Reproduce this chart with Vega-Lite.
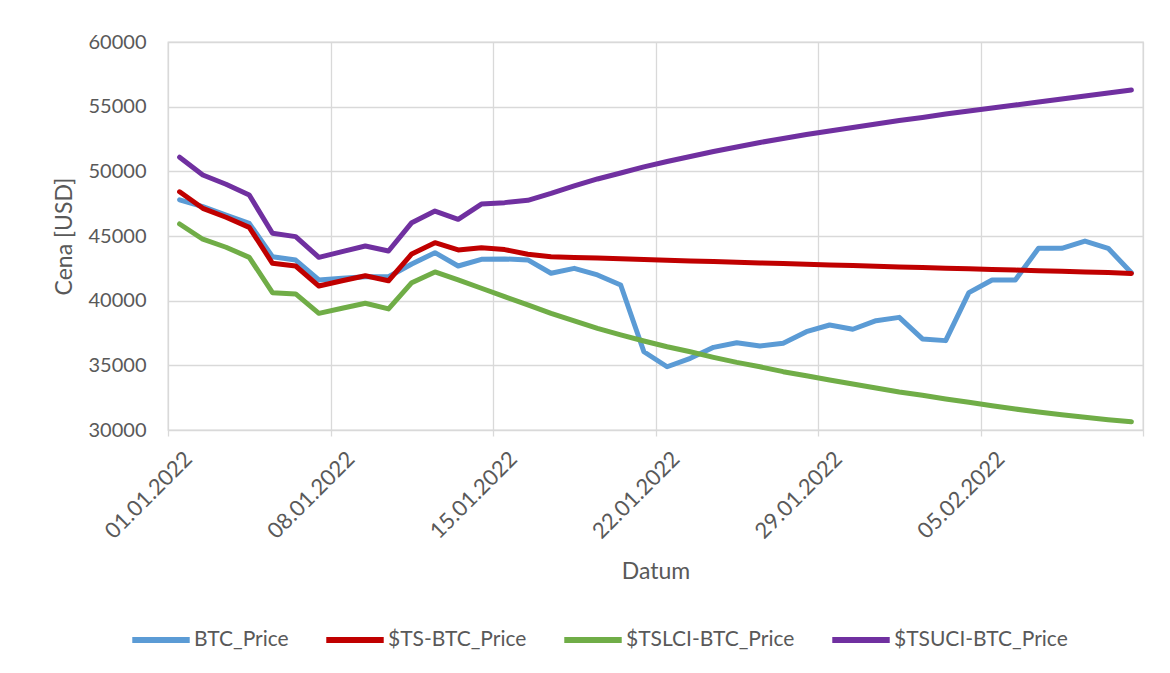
{
  "$schema": "https://vega.github.io/schema/vega-lite/v6.json",
  "width": 975,
  "height": 388,
  "autosize": {"type": "none"},
  "padding": {"left": 168, "top": 42, "right": 27, "bottom": 243},
  "background": "white",
  "config": {
    "font": "Lato",
    "view": {"stroke": "#d9d9d9", "strokeWidth": 1.3},
    "axis": {"labelFont": "Lato", "titleFont": "Lato", "labelColor": "#595959", "titleColor": "#595959", "gridColor": "#d9d9d9", "gridWidth": 1.3, "domain": false}
  },
  "data": {
    "values": [
      {"Datum": "2022-01-01", "BTC_Price": 47800, "TS": 48420, "LCI": 45930, "UCI": 51090},
      {"Datum": "2022-01-02", "BTC_Price": 47270, "TS": 47140, "LCI": 44750, "UCI": 49720},
      {"Datum": "2022-01-03", "BTC_Price": 46620, "TS": 46450, "LCI": 44130, "UCI": 49000},
      {"Datum": "2022-01-04", "BTC_Price": 45980, "TS": 45670, "LCI": 43350, "UCI": 48170},
      {"Datum": "2022-01-05", "BTC_Price": 43400, "TS": 42890, "LCI": 40620, "UCI": 45210},
      {"Datum": "2022-01-06", "BTC_Price": 43140, "TS": 42680, "LCI": 40520, "UCI": 44950},
      {"Datum": "2022-01-07", "BTC_Price": 41600, "TS": 41130, "LCI": 39020, "UCI": 43350},
      {"Datum": "2022-01-08", "BTC_Price": 41730, "TS": 41540, "LCI": 39410, "UCI": 43790},
      {"Datum": "2022-01-09", "BTC_Price": 41850, "TS": 41930, "LCI": 39800, "UCI": 44230},
      {"Datum": "2022-01-10", "BTC_Price": 41850, "TS": 41540, "LCI": 39360, "UCI": 43840},
      {"Datum": "2022-01-11", "BTC_Price": 42840, "TS": 43610, "LCI": 41390, "UCI": 46030},
      {"Datum": "2022-01-12", "BTC_Price": 43710, "TS": 44480, "LCI": 42220, "UCI": 46930},
      {"Datum": "2022-01-13", "BTC_Price": 42680, "TS": 43920, "LCI": 41600, "UCI": 46290},
      {"Datum": "2022-01-14", "BTC_Price": 43200, "TS": 44090, "LCI": 40960, "UCI": 47470},
      {"Datum": "2022-01-15", "BTC_Price": 43230, "TS": 43950, "LCI": 40310, "UCI": 47580},
      {"Datum": "2022-01-16", "BTC_Price": 43150, "TS": 43590, "LCI": 39670, "UCI": 47760},
      {"Datum": "2022-01-17", "BTC_Price": 42120, "TS": 43400, "LCI": 39020, "UCI": 48290},
      {"Datum": "2022-01-18", "BTC_Price": 42500, "TS": 43345, "LCI": 38430, "UCI": 48870},
      {"Datum": "2022-01-19", "BTC_Price": 41990, "TS": 43290, "LCI": 37860, "UCI": 49410},
      {"Datum": "2022-01-20", "BTC_Price": 41210, "TS": 43236, "LCI": 37350, "UCI": 49870},
      {"Datum": "2022-01-21", "BTC_Price": 36050, "TS": 43182, "LCI": 36880, "UCI": 50340},
      {"Datum": "2022-01-22", "BTC_Price": 34890, "TS": 43128, "LCI": 36440, "UCI": 50760},
      {"Datum": "2022-01-23", "BTC_Price": 35540, "TS": 43075, "LCI": 36050, "UCI": 51150},
      {"Datum": "2022-01-24", "BTC_Price": 36390, "TS": 43022, "LCI": 35620, "UCI": 51530},
      {"Datum": "2022-01-25", "BTC_Price": 36750, "TS": 42969, "LCI": 35230, "UCI": 51880},
      {"Datum": "2022-01-26", "BTC_Price": 36500, "TS": 42917, "LCI": 34890, "UCI": 52230},
      {"Datum": "2022-01-27", "BTC_Price": 36700, "TS": 42865, "LCI": 34510, "UCI": 52540},
      {"Datum": "2022-01-28", "BTC_Price": 37600, "TS": 42813, "LCI": 34190, "UCI": 52850},
      {"Datum": "2022-01-29", "BTC_Price": 38120, "TS": 42762, "LCI": 33870, "UCI": 53120},
      {"Datum": "2022-01-30", "BTC_Price": 37790, "TS": 42711, "LCI": 33560, "UCI": 53390},
      {"Datum": "2022-01-31", "BTC_Price": 38450, "TS": 42660, "LCI": 33250, "UCI": 53660},
      {"Datum": "2022-02-01", "BTC_Price": 38710, "TS": 42610, "LCI": 32940, "UCI": 53930},
      {"Datum": "2022-02-02", "BTC_Price": 37040, "TS": 42560, "LCI": 32680, "UCI": 54160},
      {"Datum": "2022-02-03", "BTC_Price": 36910, "TS": 42510, "LCI": 32400, "UCI": 54430},
      {"Datum": "2022-02-04", "BTC_Price": 40620, "TS": 42461, "LCI": 32140, "UCI": 54670},
      {"Datum": "2022-02-05", "BTC_Price": 41600, "TS": 42412, "LCI": 31880, "UCI": 54900},
      {"Datum": "2022-02-06", "BTC_Price": 41600, "TS": 42363, "LCI": 31620, "UCI": 55130},
      {"Datum": "2022-02-07", "BTC_Price": 44050, "TS": 42315, "LCI": 31390, "UCI": 55360},
      {"Datum": "2022-02-08", "BTC_Price": 44050, "TS": 42267, "LCI": 31180, "UCI": 55590},
      {"Datum": "2022-02-09", "BTC_Price": 44610, "TS": 42219, "LCI": 30980, "UCI": 55830},
      {"Datum": "2022-02-10", "BTC_Price": 44050, "TS": 42172, "LCI": 30800, "UCI": 56060},
      {"Datum": "2022-02-11", "BTC_Price": 42160, "TS": 42110, "LCI": 30640, "UCI": 56290}
    ]
  },
  "transform": [
    {"fold": ["BTC_Price", "TS", "LCI", "UCI"], "as": ["Serie", "Cena"]}
  ],
  "mark": {"type": "line", "strokeWidth": 5, "strokeCap": "round", "strokeJoin": "round"},
  "encoding": {
    "x": {
      "field": "Datum",
      "type": "temporal",
      "timeUnit": "utcyearmonthdate",
      "bandPosition": 0.5,
      "title": "Datum",
      "scale": {"type": "utc", "nice": false, "domain": [
        {"year": 2022, "month": 1, "date": 1, "utc": true},
        {"year": 2022, "month": 2, "date": 12, "utc": true}
      ]},
      "axis": {
        "values": [
          {"year": 2022, "month": 1, "date": 1, "utc": true},
          {"year": 2022, "month": 1, "date": 8, "utc": true},
          {"year": 2022, "month": 1, "date": 15, "utc": true},
          {"year": 2022, "month": 1, "date": 22, "utc": true},
          {"year": 2022, "month": 1, "date": 29, "utc": true},
          {"year": 2022, "month": 2, "date": 5, "utc": true},
          {"year": 2022, "month": 2, "date": 12, "utc": true}
        ],
        "labelExpr": "utcmonth(datum.value) == 1 && utcdate(datum.value) == 12 ? '' : utcFormat(datum.value, '%d.%m.%Y')",
        "labelAngle": -45,
        "labelAlign": "right",
        "labelBaseline": "top",
        "labelOffset": 13,
        "labelPadding": 12,
        "labelFontSize": 22,
        "labelOverlap": false,
        "labelBound": false,
        "labelFlush": false,
        "ticks": true,
        "tickSize": 6,
        "tickColor": "#d9d9d9",
        "tickWidth": 1.3,
        "grid": true,
        "titleFontSize": 23,
        "titleFontWeight": "normal",
        "titlePadding": 18
      }
    },
    "y": {
      "field": "Cena",
      "type": "quantitative",
      "title": "Cena [USD]",
      "scale": {"domain": [30000, 60000], "nice": false, "zero": false},
      "axis": {
        "values": [30000, 35000, 40000, 45000, 50000, 55000, 60000],
        "format": "d",
        "ticks": false,
        "labelPadding": 22,
        "labelFontSize": 20,
        "grid": true,
        "titleFontSize": 23,
        "titleFontWeight": "normal",
        "titlePadding": 12
      }
    },
    "color": {
      "field": "Serie",
      "type": "nominal",
      "sort": ["BTC_Price", "TS", "LCI", "UCI"],
      "scale": {"domain": ["BTC_Price", "TS", "LCI", "UCI"], "range": ["#5B9BD5", "#C00000", "#70AD47", "#7030A0"]},
      "legend": {
        "title": null,
        "orient": "none",
        "direction": "horizontal",
        "legendX": -39,
        "legendY": 566,
        "symbolType": "stroke",
        "symbolSize": 3300,
        "symbolStrokeWidth": 6,
        "labelFontSize": 21,
        "labelFont": "Lato",
        "labelColor": "#595959",
        "labelLimit": 300,
        "labelOffset": 1,
        "columnPadding": 25,
        "padding": 0,
        "labelExpr": "datum.label == 'TS' ? '$TS-BTC_Price' : datum.label == 'LCI' ? '$TSLCI-BTC_Price' : datum.label == 'UCI' ? '$TSUCI-BTC_Price' : datum.label"
      }
    }
  }
}
